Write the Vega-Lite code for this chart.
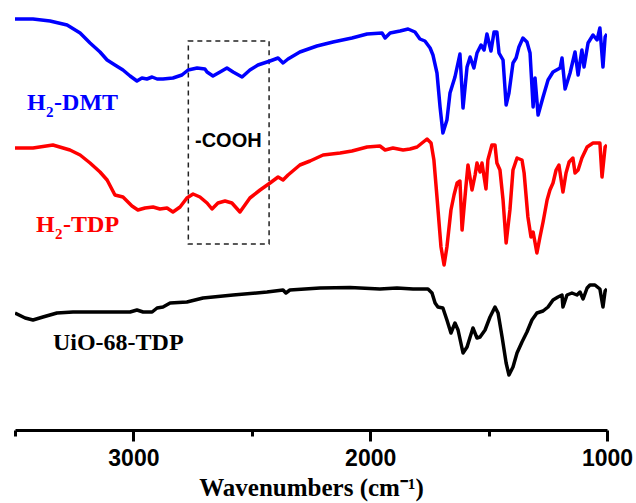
{
  "$schema": "https://vega.github.io/schema/vega-lite/v6.json",
  "width": 592,
  "height": 430,
  "autosize": {"type": "none"},
  "padding": {"left": 15, "top": 0, "right": 29, "bottom": 73},
  "background": "white",
  "config": {"view": {"stroke": null}},
  "datasets": {
    "spectra": [
      {"s":"H2-DMT","w":3500,"v":416},{"s":"H2-DMT","w":3424,"v":416},{"s":"H2-DMT","w":3352,"v":414},{"s":"H2-DMT","w":3280,"v":410},{"s":"H2-DMT","w":3225,"v":402},{"s":"H2-DMT","w":3183,"v":392},{"s":"H2-DMT","w":3141,"v":383},{"s":"H2-DMT","w":3111,"v":375},{"s":"H2-DMT","w":3078,"v":370},{"s":"H2-DMT","w":3044,"v":365},{"s":"H2-DMT","w":3014,"v":359},{"s":"H2-DMT","w":2985,"v":354},{"s":"H2-DMT","w":2964,"v":357},{"s":"H2-DMT","w":2943,"v":356},{"s":"H2-DMT","w":2921,"v":358},{"s":"H2-DMT","w":2900,"v":356},{"s":"H2-DMT","w":2875,"v":356},{"s":"H2-DMT","w":2833,"v":357},{"s":"H2-DMT","w":2795,"v":360},{"s":"H2-DMT","w":2769,"v":365},{"s":"H2-DMT","w":2731,"v":367},{"s":"H2-DMT","w":2698,"v":366},{"s":"H2-DMT","w":2689,"v":363},{"s":"H2-DMT","w":2664,"v":359},{"s":"H2-DMT","w":2634,"v":363},{"s":"H2-DMT","w":2605,"v":367},{"s":"H2-DMT","w":2579,"v":363},{"s":"H2-DMT","w":2541,"v":358},{"s":"H2-DMT","w":2508,"v":365},{"s":"H2-DMT","w":2474,"v":370},{"s":"H2-DMT","w":2423,"v":374},{"s":"H2-DMT","w":2389,"v":377},{"s":"H2-DMT","w":2368,"v":372},{"s":"H2-DMT","w":2347,"v":376},{"s":"H2-DMT","w":2297,"v":383},{"s":"H2-DMT","w":2225,"v":389},{"s":"H2-DMT","w":2157,"v":393},{"s":"H2-DMT","w":2077,"v":397},{"s":"H2-DMT","w":2013,"v":401},{"s":"H2-DMT","w":1950,"v":402},{"s":"H2-DMT","w":1937,"v":397},{"s":"H2-DMT","w":1916,"v":402},{"s":"H2-DMT","w":1874,"v":404},{"s":"H2-DMT","w":1840,"v":406},{"s":"H2-DMT","w":1811,"v":403},{"s":"H2-DMT","w":1790,"v":396},{"s":"H2-DMT","w":1769,"v":394},{"s":"H2-DMT","w":1747,"v":387},{"s":"H2-DMT","w":1735,"v":380},{"s":"H2-DMT","w":1718,"v":362},{"s":"H2-DMT","w":1705,"v":328},{"s":"H2-DMT","w":1693,"v":302},{"s":"H2-DMT","w":1676,"v":315},{"s":"H2-DMT","w":1663,"v":342},{"s":"H2-DMT","w":1642,"v":358},{"s":"H2-DMT","w":1621,"v":381},{"s":"H2-DMT","w":1608,"v":327},{"s":"H2-DMT","w":1591,"v":368},{"s":"H2-DMT","w":1578,"v":378},{"s":"H2-DMT","w":1562,"v":367},{"s":"H2-DMT","w":1549,"v":382},{"s":"H2-DMT","w":1532,"v":390},{"s":"H2-DMT","w":1519,"v":385},{"s":"H2-DMT","w":1507,"v":401},{"s":"H2-DMT","w":1490,"v":384},{"s":"H2-DMT","w":1477,"v":403},{"s":"H2-DMT","w":1465,"v":403},{"s":"H2-DMT","w":1456,"v":382},{"s":"H2-DMT","w":1439,"v":375},{"s":"H2-DMT","w":1426,"v":330},{"s":"H2-DMT","w":1414,"v":342},{"s":"H2-DMT","w":1397,"v":372},{"s":"H2-DMT","w":1384,"v":377},{"s":"H2-DMT","w":1372,"v":388},{"s":"H2-DMT","w":1355,"v":397},{"s":"H2-DMT","w":1338,"v":393},{"s":"H2-DMT","w":1325,"v":382},{"s":"H2-DMT","w":1312,"v":328},{"s":"H2-DMT","w":1304,"v":357},{"s":"H2-DMT","w":1291,"v":320},{"s":"H2-DMT","w":1270,"v":338},{"s":"H2-DMT","w":1249,"v":355},{"s":"H2-DMT","w":1228,"v":363},{"s":"H2-DMT","w":1198,"v":367},{"s":"H2-DMT","w":1190,"v":377},{"s":"H2-DMT","w":1177,"v":346},{"s":"H2-DMT","w":1156,"v":362},{"s":"H2-DMT","w":1135,"v":383},{"s":"H2-DMT","w":1122,"v":360},{"s":"H2-DMT","w":1106,"v":385},{"s":"H2-DMT","w":1097,"v":368},{"s":"H2-DMT","w":1080,"v":392},{"s":"H2-DMT","w":1059,"v":400},{"s":"H2-DMT","w":1042,"v":395},{"s":"H2-DMT","w":1030,"v":407},{"s":"H2-DMT","w":1017,"v":368},{"s":"H2-DMT","w":1008,"v":398},{"s":"H2-DMT","w":1000,"v":401},
      {"s":"H2-TDP","w":3500,"v":287},{"s":"H2-TDP","w":3424,"v":287},{"s":"H2-TDP","w":3340,"v":290},{"s":"H2-TDP","w":3268,"v":285},{"s":"H2-TDP","w":3225,"v":280},{"s":"H2-TDP","w":3183,"v":272},{"s":"H2-TDP","w":3141,"v":263},{"s":"H2-TDP","w":3111,"v":255},{"s":"H2-TDP","w":3078,"v":240},{"s":"H2-TDP","w":3044,"v":238},{"s":"H2-TDP","w":3006,"v":229},{"s":"H2-TDP","w":2981,"v":225},{"s":"H2-TDP","w":2951,"v":227},{"s":"H2-TDP","w":2917,"v":228},{"s":"H2-TDP","w":2888,"v":226},{"s":"H2-TDP","w":2858,"v":227},{"s":"H2-TDP","w":2833,"v":223},{"s":"H2-TDP","w":2803,"v":228},{"s":"H2-TDP","w":2774,"v":237},{"s":"H2-TDP","w":2748,"v":241},{"s":"H2-TDP","w":2719,"v":238},{"s":"H2-TDP","w":2689,"v":232},{"s":"H2-TDP","w":2668,"v":226},{"s":"H2-TDP","w":2643,"v":232},{"s":"H2-TDP","w":2613,"v":234},{"s":"H2-TDP","w":2584,"v":232},{"s":"H2-TDP","w":2550,"v":223},{"s":"H2-TDP","w":2508,"v":237},{"s":"H2-TDP","w":2465,"v":245},{"s":"H2-TDP","w":2423,"v":252},{"s":"H2-TDP","w":2389,"v":258},{"s":"H2-TDP","w":2368,"v":255},{"s":"H2-TDP","w":2347,"v":260},{"s":"H2-TDP","w":2297,"v":270},{"s":"H2-TDP","w":2254,"v":274},{"s":"H2-TDP","w":2199,"v":280},{"s":"H2-TDP","w":2127,"v":282},{"s":"H2-TDP","w":2077,"v":284},{"s":"H2-TDP","w":2013,"v":288},{"s":"H2-TDP","w":1959,"v":289},{"s":"H2-TDP","w":1937,"v":285},{"s":"H2-TDP","w":1904,"v":287},{"s":"H2-TDP","w":1861,"v":285},{"s":"H2-TDP","w":1832,"v":286},{"s":"H2-TDP","w":1802,"v":288},{"s":"H2-TDP","w":1781,"v":292},{"s":"H2-TDP","w":1760,"v":296},{"s":"H2-TDP","w":1743,"v":292},{"s":"H2-TDP","w":1731,"v":275},{"s":"H2-TDP","w":1718,"v":238},{"s":"H2-TDP","w":1701,"v":188},{"s":"H2-TDP","w":1688,"v":170},{"s":"H2-TDP","w":1676,"v":188},{"s":"H2-TDP","w":1659,"v":225},{"s":"H2-TDP","w":1646,"v":240},{"s":"H2-TDP","w":1633,"v":252},{"s":"H2-TDP","w":1621,"v":254},{"s":"H2-TDP","w":1612,"v":205},{"s":"H2-TDP","w":1596,"v":248},{"s":"H2-TDP","w":1587,"v":270},{"s":"H2-TDP","w":1570,"v":245},{"s":"H2-TDP","w":1557,"v":260},{"s":"H2-TDP","w":1549,"v":272},{"s":"H2-TDP","w":1536,"v":263},{"s":"H2-TDP","w":1528,"v":272},{"s":"H2-TDP","w":1511,"v":246},{"s":"H2-TDP","w":1503,"v":275},{"s":"H2-TDP","w":1486,"v":290},{"s":"H2-TDP","w":1473,"v":290},{"s":"H2-TDP","w":1465,"v":272},{"s":"H2-TDP","w":1452,"v":265},{"s":"H2-TDP","w":1439,"v":235},{"s":"H2-TDP","w":1426,"v":192},{"s":"H2-TDP","w":1410,"v":225},{"s":"H2-TDP","w":1397,"v":265},{"s":"H2-TDP","w":1380,"v":277},{"s":"H2-TDP","w":1359,"v":275},{"s":"H2-TDP","w":1350,"v":262},{"s":"H2-TDP","w":1334,"v":218},{"s":"H2-TDP","w":1321,"v":198},{"s":"H2-TDP","w":1312,"v":203},{"s":"H2-TDP","w":1296,"v":182},{"s":"H2-TDP","w":1283,"v":198},{"s":"H2-TDP","w":1270,"v":213},{"s":"H2-TDP","w":1253,"v":235},{"s":"H2-TDP","w":1241,"v":245},{"s":"H2-TDP","w":1228,"v":252},{"s":"H2-TDP","w":1215,"v":265},{"s":"H2-TDP","w":1203,"v":270},{"s":"H2-TDP","w":1186,"v":243},{"s":"H2-TDP","w":1173,"v":262},{"s":"H2-TDP","w":1160,"v":273},{"s":"H2-TDP","w":1144,"v":277},{"s":"H2-TDP","w":1135,"v":262},{"s":"H2-TDP","w":1122,"v":265},{"s":"H2-TDP","w":1106,"v":277},{"s":"H2-TDP","w":1084,"v":288},{"s":"H2-TDP","w":1059,"v":292},{"s":"H2-TDP","w":1030,"v":292},{"s":"H2-TDP","w":1021,"v":258},{"s":"H2-TDP","w":1008,"v":288},{"s":"H2-TDP","w":1000,"v":290},
      {"s":"UiO-68-TDP","w":3500,"v":122},{"s":"UiO-68-TDP","w":3457,"v":117},{"s":"UiO-68-TDP","w":3424,"v":115},{"s":"UiO-68-TDP","w":3382,"v":118},{"s":"UiO-68-TDP","w":3323,"v":122},{"s":"UiO-68-TDP","w":3255,"v":123},{"s":"UiO-68-TDP","w":3171,"v":123},{"s":"UiO-68-TDP","w":3086,"v":123},{"s":"UiO-68-TDP","w":3014,"v":123},{"s":"UiO-68-TDP","w":2985,"v":125},{"s":"UiO-68-TDP","w":2959,"v":123},{"s":"UiO-68-TDP","w":2921,"v":123},{"s":"UiO-68-TDP","w":2900,"v":127},{"s":"UiO-68-TDP","w":2875,"v":128},{"s":"UiO-68-TDP","w":2845,"v":132},{"s":"UiO-68-TDP","w":2774,"v":133},{"s":"UiO-68-TDP","w":2706,"v":137},{"s":"UiO-68-TDP","w":2579,"v":140},{"s":"UiO-68-TDP","w":2436,"v":143},{"s":"UiO-68-TDP","w":2368,"v":145},{"s":"UiO-68-TDP","w":2356,"v":142},{"s":"UiO-68-TDP","w":2339,"v":145},{"s":"UiO-68-TDP","w":2212,"v":147},{"s":"UiO-68-TDP","w":2085,"v":147.5},{"s":"UiO-68-TDP","w":1959,"v":146},{"s":"UiO-68-TDP","w":1887,"v":147},{"s":"UiO-68-TDP","w":1819,"v":146},{"s":"UiO-68-TDP","w":1756,"v":146},{"s":"UiO-68-TDP","w":1739,"v":142},{"s":"UiO-68-TDP","w":1726,"v":132},{"s":"UiO-68-TDP","w":1714,"v":128},{"s":"UiO-68-TDP","w":1693,"v":127},{"s":"UiO-68-TDP","w":1676,"v":115},{"s":"UiO-68-TDP","w":1659,"v":102},{"s":"UiO-68-TDP","w":1642,"v":112},{"s":"UiO-68-TDP","w":1629,"v":105},{"s":"UiO-68-TDP","w":1608,"v":82},{"s":"UiO-68-TDP","w":1591,"v":88},{"s":"UiO-68-TDP","w":1578,"v":98},{"s":"UiO-68-TDP","w":1566,"v":107},{"s":"UiO-68-TDP","w":1549,"v":97},{"s":"UiO-68-TDP","w":1536,"v":98},{"s":"UiO-68-TDP","w":1515,"v":105},{"s":"UiO-68-TDP","w":1494,"v":118},{"s":"UiO-68-TDP","w":1473,"v":128},{"s":"UiO-68-TDP","w":1460,"v":122},{"s":"UiO-68-TDP","w":1443,"v":98},{"s":"UiO-68-TDP","w":1426,"v":72},{"s":"UiO-68-TDP","w":1414,"v":60},{"s":"UiO-68-TDP","w":1397,"v":68},{"s":"UiO-68-TDP","w":1380,"v":82},{"s":"UiO-68-TDP","w":1359,"v":93},{"s":"UiO-68-TDP","w":1338,"v":103},{"s":"UiO-68-TDP","w":1317,"v":115},{"s":"UiO-68-TDP","w":1296,"v":122},{"s":"UiO-68-TDP","w":1270,"v":124},{"s":"UiO-68-TDP","w":1249,"v":128},{"s":"UiO-68-TDP","w":1228,"v":135},{"s":"UiO-68-TDP","w":1207,"v":138},{"s":"UiO-68-TDP","w":1190,"v":140},{"s":"UiO-68-TDP","w":1186,"v":128},{"s":"UiO-68-TDP","w":1169,"v":140},{"s":"UiO-68-TDP","w":1148,"v":142},{"s":"UiO-68-TDP","w":1127,"v":140},{"s":"UiO-68-TDP","w":1114,"v":143},{"s":"UiO-68-TDP","w":1101,"v":136},{"s":"UiO-68-TDP","w":1084,"v":147},{"s":"UiO-68-TDP","w":1072,"v":150},{"s":"UiO-68-TDP","w":1051,"v":150},{"s":"UiO-68-TDP","w":1030,"v":146},{"s":"UiO-68-TDP","w":1017,"v":128},{"s":"UiO-68-TDP","w":1008,"v":144},{"s":"UiO-68-TDP","w":1000,"v":146}
    ],
    "labels": [
      {"s":"H2-DMT","pre":"H","sub":"2","post":"-DMT","w":3449,"v":325},
      {"s":"H2-TDP","pre":"H","sub":"2","post":"-TDP","w":3411,"v":203}
    ],
    "plain": [
      {"s":"UiO-68-TDP","label":"UiO-68-TDP","w":3340,"v":85}
    ],
    "box": [{"label":"-COOH","w":2768,"w2":2427,"v":394,"v2":191,"tw":2740,"tv":288}]
  },
  "layer": [
    {
      "data": {"name": "box"},
      "mark": {"type": "rect", "fill": null, "filled": false, "stroke": "#222222", "strokeWidth": 1.5, "strokeDash": [5, 4]},
      "encoding": {
        "x": {"field": "w", "type": "quantitative",
          "scale": {"domain": [1000, 3500], "reverse": true, "nice": false, "zero": false},
          "axis": {
            "title": "Wavenumbers (cm⁻¹)",
            "values": [3500, 3000, 2500, 2000, 1500, 1000],
            "format": "d",
            "labelExpr": "datum.value % 1000 === 0 ? datum.label : ''",
            "grid": false,
            "domainColor": "black", "domainWidth": 3,
            "tickColor": "black", "tickWidth": 3,
            "tickSize": {"condition": {"test": "datum.value % 1000 === 0", "value": 11}, "value": 6},
            "labelFont": "Liberation Sans", "labelFontWeight": "bold", "labelFontSize": 23, "labelColor": "black",
            "labelPadding": 6, "labelFlush": false, "labelOverlap": false,
            "titleFont": "Liberation Serif", "titleFontWeight": "bold", "titleFontSize": 25, "titleColor": "black",
            "titlePadding": 5
          }
        },
        "x2": {"field": "w2"},
        "y": {"field": "v", "type": "quantitative", "scale": {"domain": [5, 435], "nice": false, "zero": false}, "axis": null},
        "y2": {"field": "v2"}
      }
    },
    {
      "data": {"name": "box"},
      "mark": {"type": "text", "align": "left", "baseline": "alphabetic", "font": "Liberation Sans", "fontWeight": "bold", "fontSize": 20, "color": "black"},
      "encoding": {
        "x": {"field": "tw", "type": "quantitative"},
        "y": {"field": "tv", "type": "quantitative"},
        "text": {"field": "label"}
      }
    },
    {
      "data": {"name": "spectra"},
      "mark": {"type": "line", "strokeWidth": 3.5, "strokeJoin": "round", "clip": true},
      "encoding": {
        "x": {"field": "w", "type": "quantitative"},
        "y": {"field": "v", "type": "quantitative"},
        "color": {"field": "s", "type": "nominal", "scale": {"domain": ["H2-DMT", "H2-TDP", "UiO-68-TDP"], "range": ["#0000ff", "#ff0000", "#000000"]}, "legend": null},
        "order": {"field": "w", "sort": "descending"}
      }
    },
    {
      "data": {"name": "labels"},
      "mark": {"type": "text", "align": "left", "baseline": "alphabetic", "font": "Liberation Serif", "fontWeight": "bold", "fontSize": 24},
      "encoding": {
        "x": {"field": "w", "type": "quantitative"},
        "y": {"field": "v", "type": "quantitative"},
        "text": {"field": "pre"},
        "color": {"field": "s", "type": "nominal", "legend": null}
      }
    },
    {
      "data": {"name": "labels"},
      "mark": {"type": "text", "align": "left", "baseline": "alphabetic", "font": "Liberation Serif", "fontWeight": "bold", "fontSize": 15, "dx": 19, "dy": 7},
      "encoding": {
        "x": {"field": "w", "type": "quantitative"},
        "y": {"field": "v", "type": "quantitative"},
        "text": {"field": "sub"},
        "color": {"field": "s", "type": "nominal", "legend": null}
      }
    },
    {
      "data": {"name": "labels"},
      "mark": {"type": "text", "align": "left", "baseline": "alphabetic", "font": "Liberation Serif", "fontWeight": "bold", "fontSize": 24, "dx": 27},
      "encoding": {
        "x": {"field": "w", "type": "quantitative"},
        "y": {"field": "v", "type": "quantitative"},
        "text": {"field": "post"},
        "color": {"field": "s", "type": "nominal", "legend": null}
      }
    },
    {
      "data": {"name": "plain"},
      "mark": {"type": "text", "align": "left", "baseline": "alphabetic", "font": "Liberation Serif", "fontWeight": "bold", "fontSize": 24},
      "encoding": {
        "x": {"field": "w", "type": "quantitative"},
        "y": {"field": "v", "type": "quantitative"},
        "text": {"field": "label"},
        "color": {"field": "s", "type": "nominal", "legend": null}
      }
    }
  ]
}
